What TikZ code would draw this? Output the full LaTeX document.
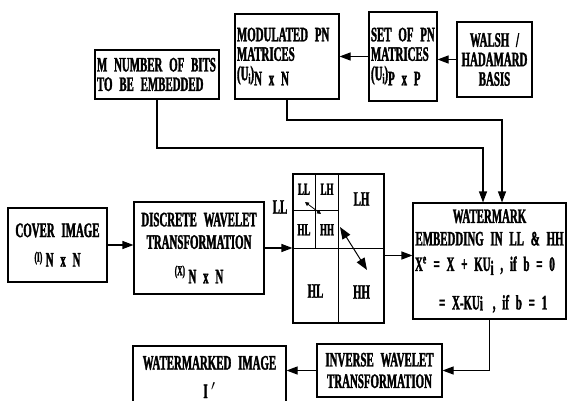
\documentclass[tikz,border=0pt]{standalone}
\usepackage{fontspec}
\newfontfamily\cond{Liberation Serif Bold}[FakeStretch=0.53, FakeBold=1.6, WordSpace=0.7]
\usetikzlibrary{arrows.meta, positioning, calc}
\newcommand{\dn}[2][5pt]{\raisebox{-#1}{#2}}
\newcommand{\sml}{\fontsize{14}{14}\selectfont}

\begin{document}
\begin{tikzpicture}[x=1pt, y=-1pt,
    blk/.style={draw, line width=1.1pt, inner sep=2pt,
                font=\cond\fontsize{20.5}{19.5}\selectfont},
    lbl/.style={font=\cond\fontsize{20.5}{19.5}\selectfont, inner sep=0pt},
    sub/.style={font=\cond\fontsize{17}{17}\selectfont, inner sep=0pt},
    arr/.style={-{Triangle[length=11pt, width=8pt]}, line width=1.1pt},
    dbl/.style={{Triangle[length=12pt, width=9pt]}-{Triangle[length=12pt, width=9pt]}, line width=1pt},
    sdbl/.style={{Triangle[length=4pt, width=4pt]}-{Triangle[length=4pt, width=4pt]}, line width=0.8pt}
  ]
  \useasboundingbox (0,0) rectangle (567,401);
  % top row
  \node[blk, minimum height=49pt, text width=120pt, align=left] (bits) at (157,74.5)
    {M NUMBER OF BITS\\TO BE EMBEDDED};
  \node[blk, minimum height=85pt, text width=100pt, align=left] (mod) at (287,56.5)
    {MODULATED PN\\MATRICES\\(U\dn[3pt]{\sml i})\dn{N x N}};
  \node[blk, minimum height=89pt, text width=64pt, align=left] (setpn) at (403,56.5)
    {SET OF PN\\MATRICES\\(U\dn[3pt]{\sml i})\dn{P x P}};
  \node[blk, minimum height=75pt, text width=71pt, align=center] (walsh) at (494.5,59.5)
    {WALSH /\\HADAMARD\\BASIS};
  % middle row
  \node[blk, minimum height=74pt, text width=95pt, align=center] (cover) at (57.5,245)
    {COVER IMAGE\\[5pt]{\sml(I)}\,\dn{N x N}};
  \node[blk, minimum height=92pt, text width=126pt, align=center] (dwt) at (199,248)
    {DISCRETE WAVELET\\[3pt]TRANSFORMATION\\[7pt]{\sml(X)}\,\dn[8pt]{N x N}};
  \node[draw, line width=1.1pt, minimum width=91pt, minimum height=149pt] (grid) at (338.5,248.5) {};
  \node[blk, minimum height=116pt, text width=149pt, align=center] (wm) at (489.5,261)
    {WATERMARK\\[3pt]EMBEDDING IN LL \& HH\\[6pt]
     \makebox[149pt][l]{X\textsuperscript{e} = X + KU\dn[4pt]{i} , if b = 0}\\[19pt]
     \makebox[149pt][l]{\hspace{24pt}= X-KU\dn[1pt]{i}\hspace{10pt}, if b = 1}};
  % bottom row
  \node[blk, minimum height=53pt, text width=121pt, align=center] (inv) at (379.5,370.5)
    {INVERSE WAVELET\\[2pt]TRANSFORMATION};
  \node[blk, minimum height=62pt, text width=149pt, align=center] (wmi) at (209.5,377)
    {WATERMARKED IMAGE\\[9pt]I\,$'$};

  % sub-bands
  \coordinate (q) at ($(grid.north west)!0.5!(grid.center)$);
  \draw[line width=1.1pt] (grid.north) -- (grid.south);
  \draw[line width=1.1pt] (grid.west) -- (grid.east);
  \draw[line width=1pt] (q |- grid.north) -- (q |- grid.center);
  \draw[line width=1pt] (q -| grid.west) -- (q -| grid.center);
  \node[lbl] (lltag) at (280,207) {LL};
  \node[sub] (ll2) at ($(grid.north west)!0.5!(q)+(0,-3)$) {LL};
  \node[sub] (lh2) at ($(q |- grid.north)!0.5!(q -| grid.center)+(0,-3)$) {LH};
  \node[sub] (hl2) at ($(q -| grid.west)!0.5!(q |- grid.center)$) {HL};
  \node[sub] (hh2) at ($(q)!0.5!(grid.center)$) {HH};
  \node[lbl] (lh1) at ($(grid.north east)!0.5!(grid.center)+(0,-12)$) {LH};
  \node[lbl] (hl1) at ($(grid.south west)!0.5!(grid.center)+(0,5)$) {HL};
  \node[lbl] (hh1) at ($(grid.south east)!0.5!(grid.center)+(0,6)$) {HH};
  \coordinate (ua) at (340,227);
  \coordinate (ub) at (367,270);
  \draw[dbl] (ua) -- (ub);
  \coordinate (va) at (305,202);
  \coordinate (vb) at (321,214);
  \draw[sdbl] (va) -- (vb);

  % connectors
  \draw[arr] (walsh.west) -- (walsh.west -| setpn.east);
  \draw[arr] (setpn.west) -- (setpn.west -| mod.east);
  \coordinate (bend1) at (483,148);
  \coordinate (bend2) at (502,120);
  \draw[arr] (bits.south) |- (bend1) -- (bend1 |- wm.north);
  \draw[arr] (mod.south) |- (bend2) -- (bend2 |- wm.north);
  \draw[arr] (cover.east) -- (cover.east -| dwt.west);
  \draw[arr] (dwt.east) -- (dwt.east -| grid.west);
  \draw[arr] ($(grid.east)+(0,7)$) -- ($(grid.east -| wm.west)+(0,7)$);
  \draw[arr] (wm.south) |- (inv.east);
  \draw[arr] (inv.west) -- (inv.west -| wmi.east);
\end{tikzpicture}
\end{document}
